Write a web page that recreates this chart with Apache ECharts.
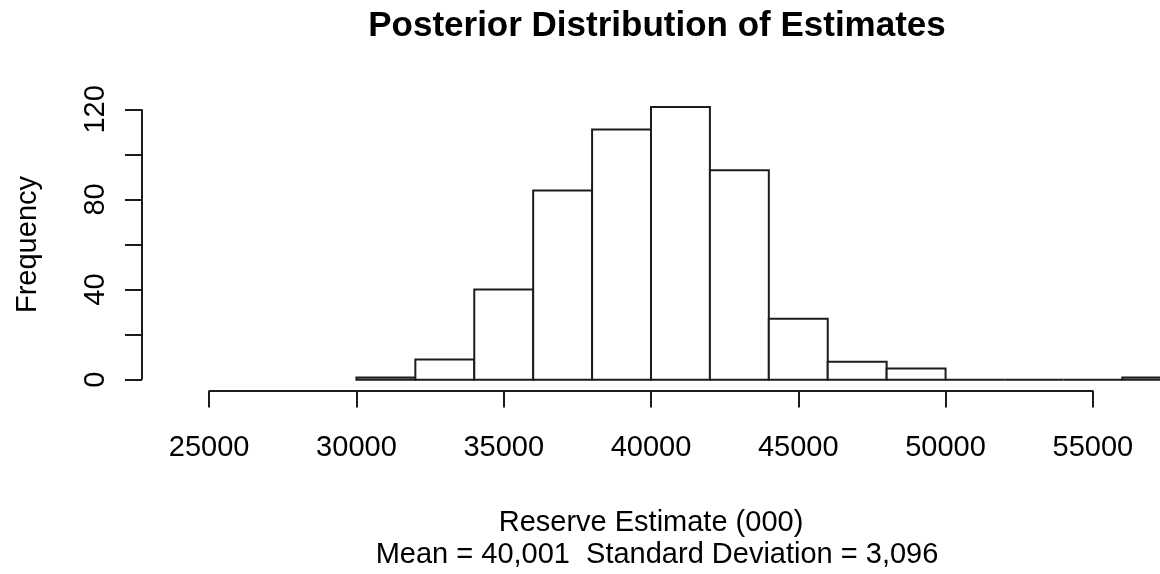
<!DOCTYPE html>
<html>
<head>
<meta charset="utf-8">
<script src="https://cdn.jsdelivr.net/npm/echarts@6/dist/echarts.min.js"></script>
<style>
  html, body { margin: 0; padding: 0; background: #fff; }
  #chart { width: 1160px; height: 574px; }
</style>
</head>
<body>
<div id="chart"></div>
<script>
// Histogram bins: edges and counts
const binEdges = [30000, 32000, 34000, 36000, 38000, 40000, 42000, 44000, 46000, 48000, 50000, 52000, 54000, 56000, 58000];
const binCounts = [1, 9, 40, 84, 111, 121, 93, 27, 8, 5, 0, 0, 0, 1];

// Axis ticks and labels
const xTicks = [25000, 30000, 35000, 40000, 45000, 50000, 55000];
const yTicks = [0, 20, 40, 60, 80, 100, 120];
const yLabels = [0, 40, 80, 120];

// Plot ranges
const xRange = [22720, 57280];
const yRange = [-4.8, 124.8];

const titleText = 'Posterior Distribution of Estimates';
const xTitle = 'Reserve Estimate (000)';
const yTitle = 'Frequency';
const statsText = 'Mean = 40,001  Standard Deviation = 3,096';

const FONT = '"Liberation Sans", Arial, sans-serif';
const INK = '#1c1c1c';

const bins = binCounts.map((c, i) => [binEdges[i], binEdges[i + 1], c]);

const chart = echarts.init(document.getElementById('chart'), null, { renderer: 'canvas' });

chart.setOption({
  animation: false,
  backgroundColor: '#ffffff',
  textStyle: { fontFamily: FONT, color: '#000' },
  title: [
    {
      text: titleText,
      left: 652, top: 4, textAlign: 'center',
      textStyle: { fontFamily: FONT, fontWeight: 'bold', fontSize: 35, color: '#000' }
    },
    {
      text: statsText,
      left: 652, top: 535, textAlign: 'center',
      textStyle: { fontFamily: FONT, fontWeight: 'normal', fontSize: 29, color: '#000' }
    }
  ],
  grid: { left: 142, top: 98.5, width: 1020, height: 292, containLabel: false },
  xAxis: {
    type: 'value',
    min: xRange[0], max: xRange[1],
    name: xTitle,
    nameLocation: 'middle',
    nameGap: 118,
    nameTextStyle: { fontFamily: FONT, fontSize: 29, color: '#000' },
    axisLine: { show: false, onZero: false },
    axisTick: { show: true, length: 17, customValues: xTicks, lineStyle: { color: INK, width: 2 } },
    axisLabel: {
      show: true, customValues: xTicks, margin: 43,
      formatter: function (v) { return String(v); },
      fontFamily: FONT, fontSize: 29, color: '#000'
    },
    splitLine: { show: false }
  },
  yAxis: {
    type: 'value',
    min: yRange[0], max: yRange[1],
    name: yTitle,
    nameLocation: 'middle',
    nameRotate: 90,
    nameGap: 100,
    nameTextStyle: { fontFamily: FONT, fontSize: 29, color: '#000' },
    axisLine: { show: false, onZero: false },
    axisTick: { show: true, length: 17, customValues: yTicks, lineStyle: { color: INK, width: 2 } },
    axisLabel: {
      show: true, customValues: yLabels, rotate: 90, margin: 32,
      formatter: function (v) { return String(v); },
      fontFamily: FONT, fontSize: 29, color: '#000'
    },
    splitLine: { show: false }
  },
  series: [
    {
      type: 'custom',
      name: 'hist',
      clip: true,
      data: bins,
      encode: { x: [0, 1], y: 2 },
      renderItem: function (params, api) {
        const p0 = api.coord([api.value(0), api.value(2)]);
        const p1 = api.coord([api.value(1), 0]);
        return {
          type: 'rect',
          shape: { x: p0[0], y: p0[1], width: p1[0] - p0[0], height: p1[1] - p0[1] },
          style: { fill: '#ffffff', stroke: INK, lineWidth: 2 }
        };
      }
    },
    {
      type: 'lines',
      coordinateSystem: 'cartesian2d',
      clip: false,
      silent: true,
      lineStyle: { color: INK, width: 2, opacity: 1 },
      data: [
        { coords: [[xTicks[0], yRange[0]], [xTicks[xTicks.length - 1], yRange[0]]] },
        { coords: [[xRange[0], yTicks[0]], [xRange[0], yTicks[yTicks.length - 1]]] }
      ]
    }
  ]
});
</script>
</body>
</html>
